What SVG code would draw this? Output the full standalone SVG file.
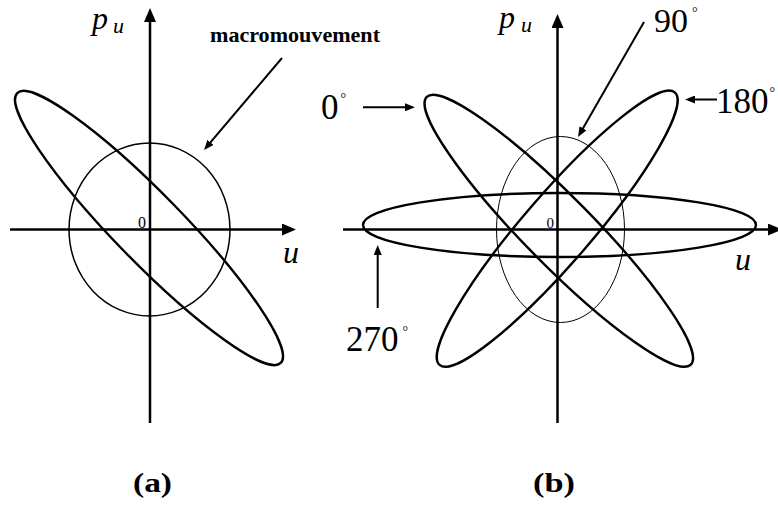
<svg xmlns="http://www.w3.org/2000/svg" width="778" height="508" viewBox="0 0 778 508">
<style>
  .axis{stroke:#000;stroke-width:2.5;fill:none;marker-end:url(#axh)}
  .ptr{stroke:#000;stroke-width:2;fill:none;marker-end:url(#ph)}
  .orb{stroke:#000;stroke-width:2.4;fill:none}
  .thin{stroke:#000;stroke-width:1.5;fill:none}
  .hair{stroke:#000;stroke-width:1;fill:none}
  .t{font-family:"Liberation Serif","Times New Roman",serif;fill:#000}
  .i{font-style:italic}
  .b{font-weight:bold}
</style>
<defs>
  <marker id="axh" viewBox="0 0 14 12" refX="6" refY="6" markerWidth="14" markerHeight="12" markerUnits="userSpaceOnUse" orient="auto"><path d="M0,0 L14,6 L0,12 z" fill="#000"/></marker>
  <marker id="ph" viewBox="0 0 10 8" refX="4" refY="4" markerWidth="10" markerHeight="8" markerUnits="userSpaceOnUse" orient="auto"><path d="M0,0 L10,4 L0,8 z" fill="#000"/></marker>
</defs>

<g id="panel-a">
  <g id="a-curves">
    <ellipse class="thin" cx="149.5" cy="229.5" rx="80.5" ry="86.5"/>
    <ellipse class="orb" cx="149" cy="228" rx="188.6" ry="34" transform="rotate(45.7 149 228)"/>
  </g>
  <g id="a-axes">
    <path class="axis" d="M150,423 L150,16"/>
    <path class="axis" d="M10,229.5 L288,229.5"/>
  </g>
  <g id="a-labels">
    <text class="t i" x="92" y="29" font-size="32">p</text>
    <text class="t i" x="113" y="33" font-size="22">u</text>
    <text class="t i" x="283" y="263" font-size="32">u</text>
    <text class="t" x="138" y="228" font-size="16">0</text>
    <text class="t b" x="210" y="41.7" font-size="21" textLength="170" lengthAdjust="spacingAndGlyphs">macromouvement</text>
    <text class="t b" x="133" y="492" font-size="28" textLength="39" lengthAdjust="spacingAndGlyphs">(a)</text>
  </g>
  <g id="a-connectors">
    <path class="ptr" d="M282,58 L207.9,145.4"/>
  </g>
</g>

<g id="panel-b">
  <g id="b-curves">
    <ellipse class="hair" cx="560.5" cy="229.5" rx="64" ry="93"/>
    <ellipse class="orb" cx="559.5" cy="225" rx="196.5" ry="32"/>
    <ellipse class="orb" cx="558.8" cy="230.8" rx="188" ry="34" transform="rotate(45.4 558.8 230.8)"/>
    <ellipse class="orb" cx="557.2" cy="228.7" rx="180" ry="34" transform="rotate(-49.2 557.2 228.7)"/>
  </g>
  <g id="b-axes">
    <path class="axis" d="M557.5,423 L557.5,22"/>
    <path class="axis" d="M343,229.5 L774,229.5"/>
  </g>
  <g id="b-labels">
    <text class="t i" x="499" y="28" font-size="32">p</text>
    <text class="t i" x="521" y="32" font-size="22">u</text>
    <text class="t i" x="735" y="270" font-size="32">u</text>
    <text class="t" x="546.5" y="228" font-size="15">0</text>
    <text class="t" x="321" y="119" font-size="35">0<tspan font-size="14" dx="2" dy="-16.5">°</tspan></text>
    <text class="t" x="654" y="32" font-size="34">90<tspan font-size="14" dx="4" dy="-15">°</tspan></text>
    <text class="t" x="716" y="113.3" font-size="35">180<tspan font-size="14" dx="1" dy="-16">°</tspan></text>
    <text class="t" x="346" y="350.7" font-size="35">270<tspan font-size="14" dx="4" dy="-14.5">°</tspan></text>
    <text class="t b" x="533" y="492" font-size="28" textLength="42" lengthAdjust="spacingAndGlyphs">(b)</text>
  </g>
  <g id="b-connectors">
    <path class="ptr" d="M363,107.3 L409,107.3"/>
    <path class="ptr" d="M717,99.5 L691,99.5"/>
    <path class="ptr" d="M644,22 L581,131.8"/>
    <path class="ptr" d="M377.7,308 L377.7,251"/>
  </g>
</g>
</svg>
